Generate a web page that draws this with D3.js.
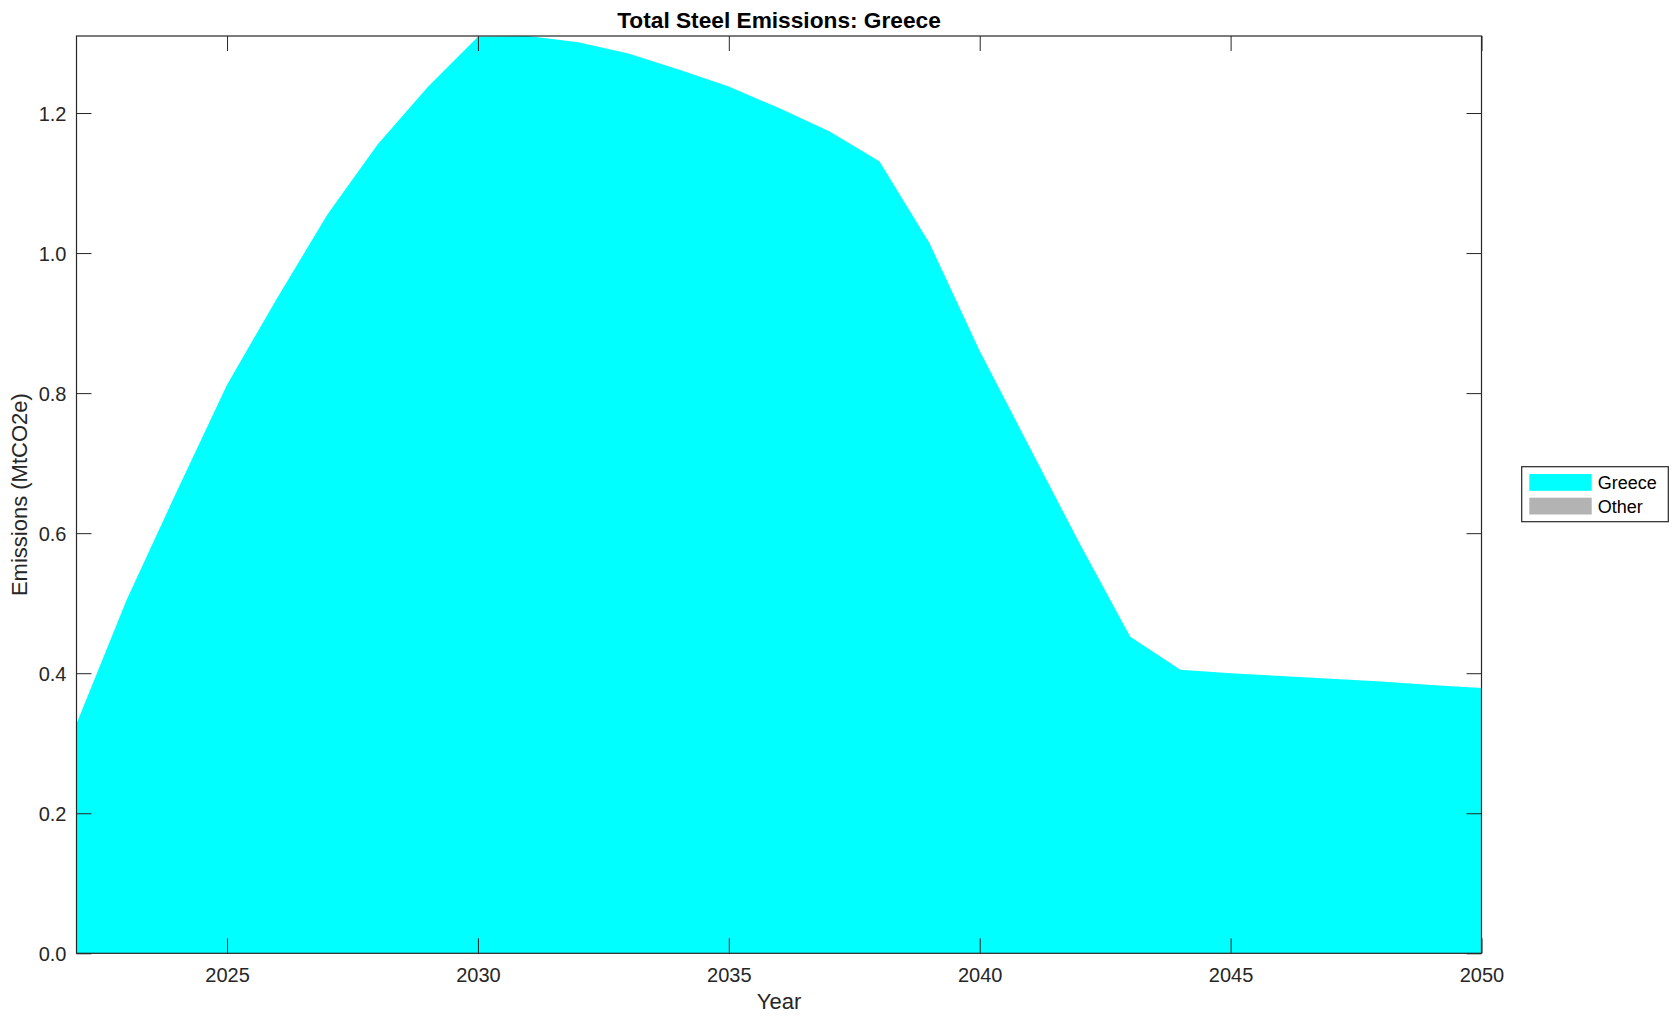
<!DOCTYPE html>
<html>
<head>
<meta charset="utf-8">
<script src="https://cdn.jsdelivr.net/npm/d3@7"></script>
<style>
  body { margin: 0; background: #fff; }
  svg { display: block; font-family: "Liberation Sans", Arial, Helvetica, sans-serif; }
</style>
</head>
<body>
<svg></svg>
<script>
// years on the x axis
var years = [2022, 2023, 2024, 2025, 2026, 2027, 2028, 2029, 2030, 2031,
             2032, 2033, 2034, 2035, 2036, 2037, 2038, 2039, 2040, 2041,
             2042, 2043, 2044, 2045, 2046, 2047, 2048, 2049, 2050];

// emissions, MtCO2e
var greece = [0.328, 0.505, 0.660, 0.812, 0.936, 1.055, 1.155, 1.237, 1.309, 1.310,
              1.301, 1.285, 1.262, 1.238, 1.207, 1.174, 1.131, 1.014, 0.860, 0.722,
              0.584, 0.452, 0.405, 0.400, 0.396, 0.392, 0.388, 0.383, 0.379];
var other = [0, 0, 0, 0, 0, 0, 0, 0, 0, 0,
             0, 0, 0, 0, 0, 0, 0, 0, 0, 0,
             0, 0, 0, 0, 0, 0, 0, 0, 0];

var seriesNames = ["Greece", "Other"];
var seriesColors = ["#00ffff", "#b3b3b3"];

var xTicks = [2025, 2030, 2035, 2040, 2045, 2050];
var yTicks = [0, 0.2, 0.4, 0.6, 0.8, 1.0, 1.2];

var W = 1679, H = 1021;
// plot box edges (window.top is read-only, so no bare "top")
var pLeft = 76.5, pRight = 1481.5, pTop = 36, pBottom = 953.3;
var ink = "#262626";

var svg = d3.select("svg")
    .attr("width", W)
    .attr("height", H);

var rows = years.map(function (y, i) {
    return { year: y, Greece: greece[i], Other: other[i] };
});

var stacked = d3.stack().keys(seriesNames)(rows);

var x = d3.scaleLinear()
    .domain([years[0], years[years.length - 1]])
    .range([pLeft, pRight]);

var y = d3.scaleLinear()
    .domain([0, d3.max(stacked[stacked.length - 1], function (d) { return d[1]; })])
    .range([pBottom, pTop]);

var area = d3.area()
    .x(function (d) { return x(d.data.year); })
    .y0(function (d) { return y(d[0]); })
    .y1(function (d) { return y(d[1]); });

svg.append("g")
    .selectAll("path")
    .data(stacked)
    .enter()
    .append("path")
    .attr("d", area)
    .attr("fill", function (d, i) { return seriesColors[i]; })
    .attr("stroke", "none");

// axes: ticks point inward, mirrored on top and right
var tickLen = 15;

var xAxis = svg.append("g")
    .attr("transform", "translate(0," + pBottom + ")")
    .call(d3.axisBottom(x).tickValues(xTicks).tickFormat(d3.format("d"))
        .tickSizeInner(-tickLen).tickSizeOuter(0));
xAxis.select(".domain").remove();
xAxis.selectAll("line").attr("stroke", ink);
xAxis.selectAll("text").attr("fill", ink).attr("font-size", "20px").attr("dy", 0)
    .attr("y", 29);

var xTop = svg.append("g")
    .attr("transform", "translate(0," + pTop + ")")
    .call(d3.axisTop(x).tickValues(xTicks).tickFormat("")
        .tickSizeInner(-tickLen).tickSizeOuter(0));
xTop.select(".domain").remove();
xTop.selectAll("line").attr("stroke", ink);

var yAxis = svg.append("g")
    .attr("transform", "translate(" + pLeft + ",0)")
    .call(d3.axisLeft(y).tickValues(yTicks).tickFormat(d3.format(".1f"))
        .tickSizeInner(-tickLen).tickSizeOuter(0));
yAxis.select(".domain").remove();
yAxis.selectAll("line").attr("stroke", ink);
yAxis.selectAll("text").attr("fill", ink).attr("font-size", "20px")
    .attr("x", -10).attr("dy", "0.36em");

var yRight = svg.append("g")
    .attr("transform", "translate(" + pRight + ",0)")
    .call(d3.axisRight(y).tickValues(yTicks).tickFormat("")
        .tickSizeInner(-tickLen).tickSizeOuter(0));
yRight.select(".domain").remove();
yRight.selectAll("line").attr("stroke", ink);

// box
svg.append("rect")
    .attr("x", pLeft)
    .attr("y", pTop)
    .attr("width", pRight - pLeft)
    .attr("height", pBottom - pTop)
    .attr("fill", "none")
    .attr("stroke", ink)
    .attr("stroke-width", 1.2);

// title and labels
svg.append("text")
    .attr("x", (pLeft + pRight) / 2)
    .attr("y", 28)
    .attr("text-anchor", "middle")
    .attr("font-size", "22.7px")
    .attr("font-weight", "bold")
    .attr("fill", "#000")
    .text("Total Steel Emissions: Greece");

svg.append("text")
    .attr("x", (pLeft + pRight) / 2)
    .attr("y", 1009)
    .attr("text-anchor", "middle")
    .attr("font-size", "22px")
    .attr("fill", ink)
    .text("Year");

svg.append("text")
    .attr("transform", "translate(27," + ((pTop + pBottom) / 2) + ") rotate(-90)")
    .attr("text-anchor", "middle")
    .attr("font-size", "22px")
    .attr("fill", ink)
    .text("Emissions (MtCO2e)");

// legend
var legend = svg.append("g").attr("transform", "translate(1521.7,466.7)");
legend.append("rect")
    .attr("width", 146.6)
    .attr("height", 55)
    .attr("fill", "#fff")
    .attr("stroke", ink)
    .attr("stroke-width", 1.2);

var items = legend.selectAll("g.item")
    .data(seriesNames)
    .enter()
    .append("g")
    .attr("class", "item")
    .attr("transform", function (d, i) { return "translate(0," + (i * 23.7) + ")"; });

items.append("rect")
    .attr("x", 7.6)
    .attr("y", 7.3)
    .attr("width", 62.4)
    .attr("height", 16.8)
    .attr("fill", function (d, i) { return seriesColors[i]; });

items.append("text")
    .attr("x", 76)
    .attr("y", 22.5)
    .attr("font-size", "18px")
    .attr("fill", "#000")
    .text(function (d) { return d; });
</script>
</body>
</html>
